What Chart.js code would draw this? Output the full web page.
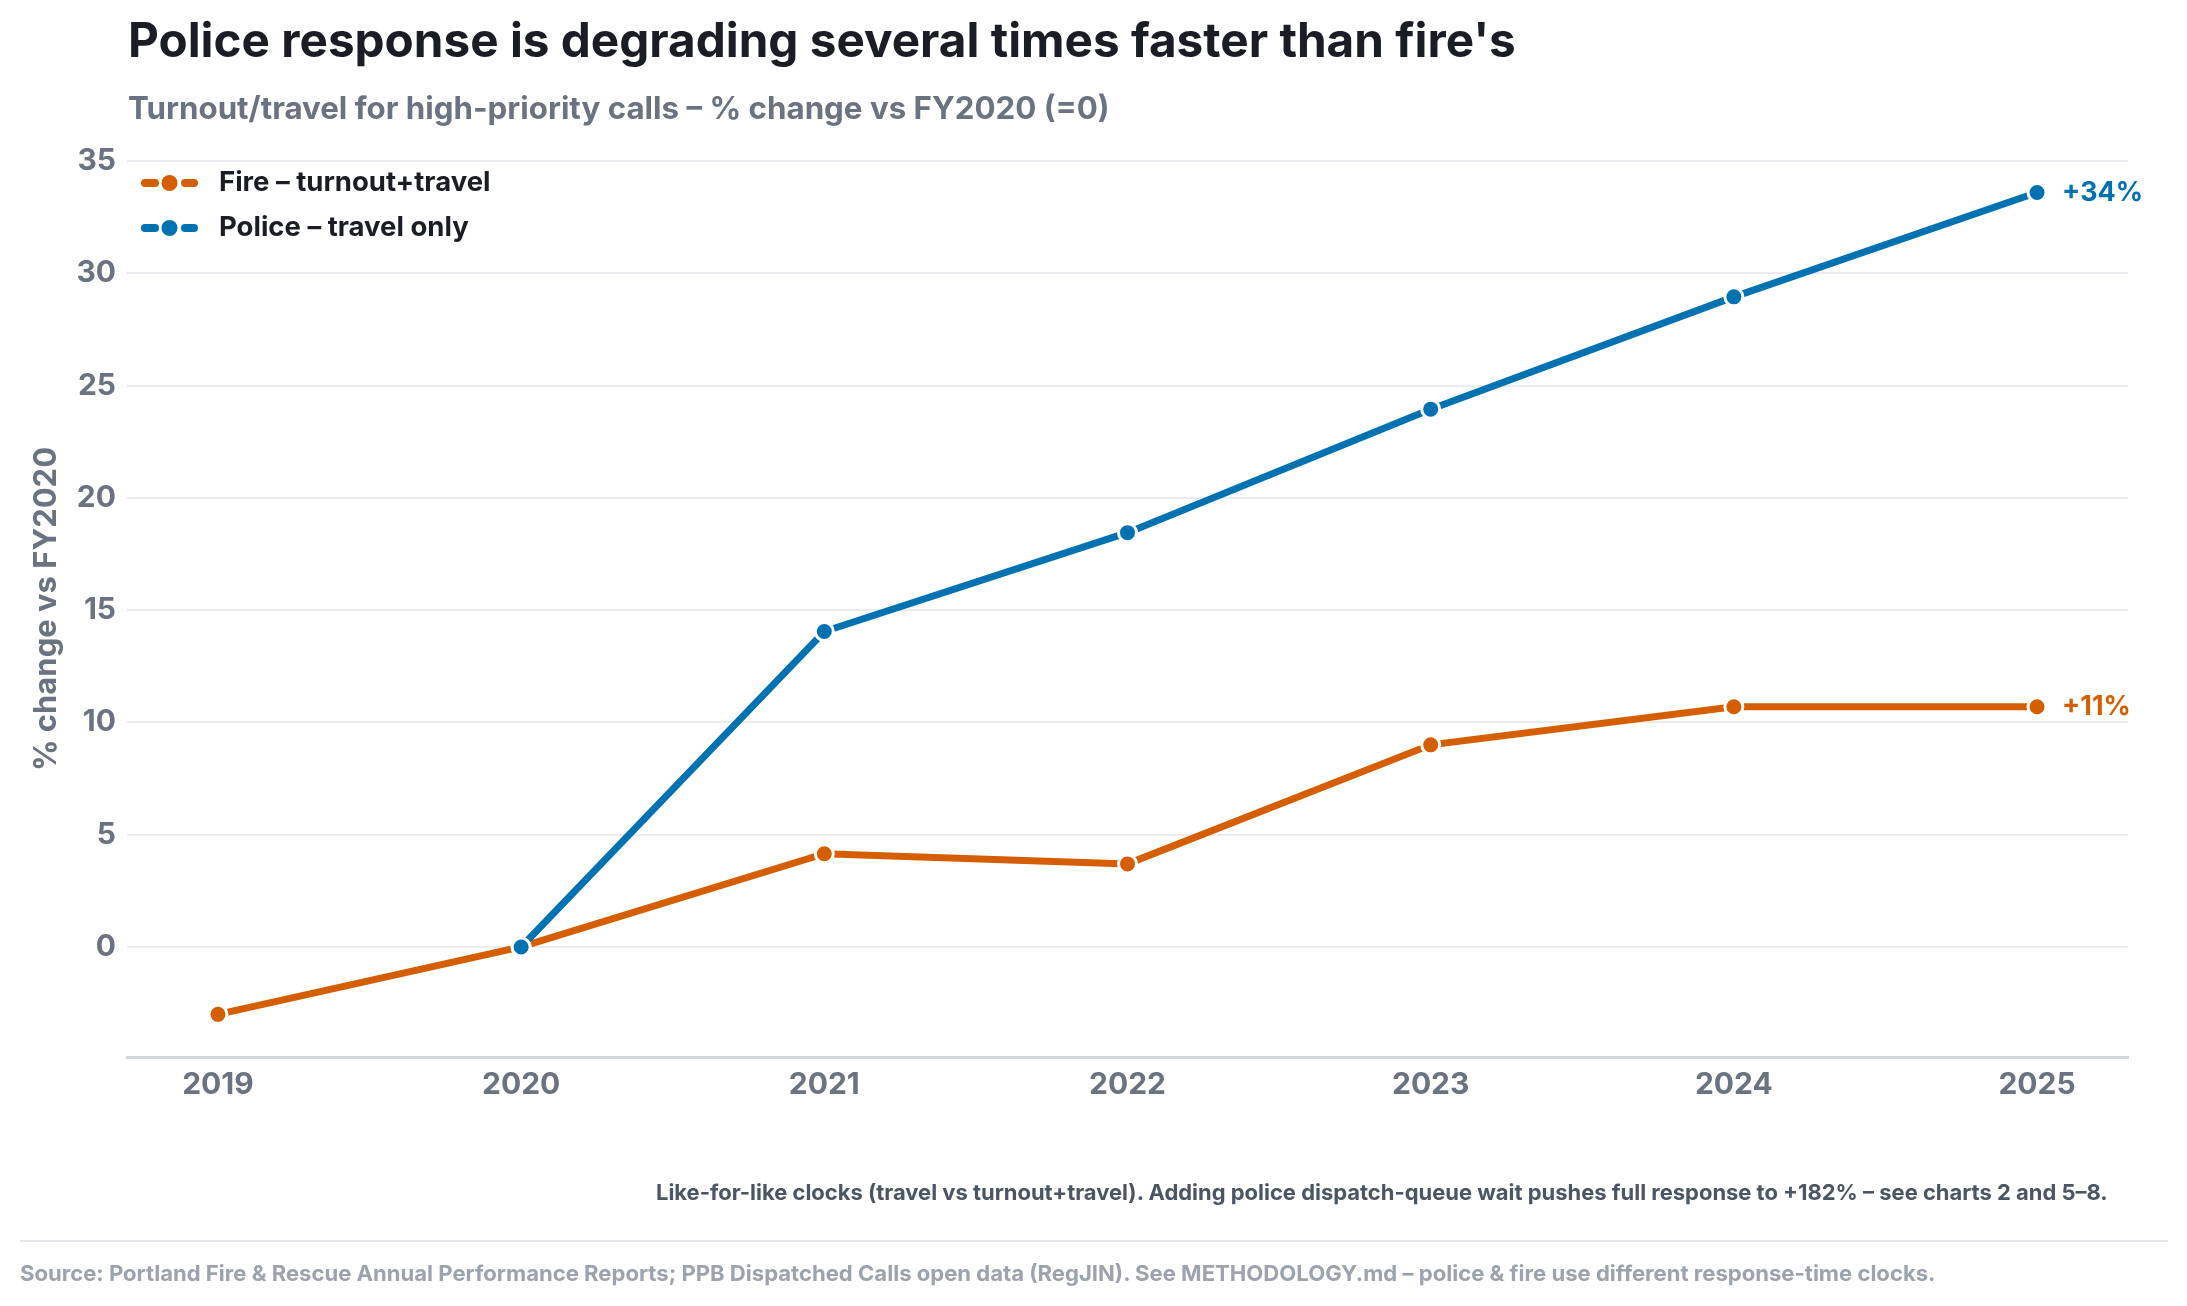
<!DOCTYPE html>
<html lang="en">
<head>
<meta charset="utf-8">
<title>Police vs fire response times</title>
<script src="https://cdn.jsdelivr.net/npm/chart.js@4.4.1/dist/chart.umd.min.js"></script>
<style>
  html, body { margin: 0; padding: 0; background: #fff; }
  body { width: 2187px; height: 1306px; position: relative; overflow: hidden;
         font-family: Inter, "Noto Sans", sans-serif; font-weight: 700; }
  #wrap { position: absolute; left: 0; top: 0; width: 2187px; height: 1306px; }
  .t { position: absolute; white-space: nowrap; line-height: 1; }
  #title { left: 128px; font-size: 48px; color: #1a1d23; }
  #subtitle { left: 128px; font-size: 30px; color: #6b7280; }
  #note { font-size: 21px; color: #4b5563; }
  #rule { position: absolute; left: 20px; width: 2148px; top: 1240px; height: 2px; background: #e5e7eb; }
  #source { left: 20px; font-size: 21px; color: #9ca3af; }
</style>
</head>
<body>
<div id="wrap"><canvas id="chart"></canvas></div>
<div class="t" id="title">Police response is degrading several times faster than fire's</div>
<div class="t" id="subtitle">Turnout/travel for high-priority calls – % change vs FY2020 (=0)</div>
<div class="t" id="note">Like-for-like clocks (travel vs turnout+travel). Adding police dispatch-queue wait pushes full response to +182% – see charts 2 and 5–8.</div>
<div id="rule"></div>
<div class="t" id="source">Source: Portland Fire &amp; Rescue Annual Performance Reports; PPB Dispatched Calls open data (RegJIN). See METHODOLOGY.md – police &amp; fire use different response-time clocks.</div>
<script>
// values, % change vs FY2020
const years = [2019, 2020, 2021, 2022, 2023, 2024, 2025];
const fireChange = [-3.0, 0, 4.15, 3.7, 9.0, 10.7, 10.7];
const policeYears = [2020, 2021, 2022, 2023, 2024, 2025];
const policeChange = [0, 14.05, 18.45, 23.95, 28.95, 33.6];
const yTicks = [0, 5, 10, 15, 20, 25, 30, 35];

const FIRE = '#d55e00';
const POLICE = '#0072b2';
const FONT = 'Inter, "Noto Sans", sans-serif';

function pairs(xs, ys) {
    return xs.map((x, i) => ({ x: x, y: ys[i] }));
}

// size a text block to the width it has in the reference, keep its baseline
function fitText(id, width, baseline, right) {
    const el = document.getElementById(id);
    const size = parseFloat(getComputedStyle(el).fontSize);
    const w = el.getBoundingClientRect().width;
    const s = size * width / w;
    el.style.fontSize = s.toFixed(2) + 'px';
    el.style.top = (baseline - 0.864 * s).toFixed(1) + 'px';
    if (right !== undefined) el.style.left = (right - width) + 'px';
}

function fitFont(ctx, text, width) {
    ctx.font = 'bold 100px ' + FONT;
    return 100 * width / ctx.measureText(text).width;
}

function drawMarker(ctx, x0, y, color) {
    ctx.strokeStyle = color;
    ctx.lineWidth = 8;
    ctx.lineCap = 'round';
    ctx.beginPath();
    ctx.moveTo(x0 + 4, y); ctx.lineTo(x0 + 14, y);
    ctx.moveTo(x0 + 44, y); ctx.lineTo(x0 + 53, y);
    ctx.stroke();
    ctx.beginPath();
    ctx.arc(x0 + 28.5, y, 8, 0, Math.PI * 2);
    ctx.fillStyle = color;
    ctx.fill();
}

// legend in the top-left of the plot + end-of-line labels
const decorations = {
    id: 'decorations',
    afterDatasetsDraw(chart) {
        const ctx = chart.ctx;
        const area = chart.chartArea;
        ctx.save();
        const endSize = fitFont(ctx, '+34%', 81);
        chart.data.datasets.forEach((ds, i) => {
            const meta = chart.getDatasetMeta(i);
            const pt = meta.data[meta.data.length - 1];
            const v = ds.data[ds.data.length - 1].y;
            ctx.font = 'bold ' + endSize.toFixed(1) + 'px ' + FONT;
            ctx.fillStyle = ds.borderColor;
            ctx.textAlign = 'left';
            ctx.textBaseline = 'middle';
            ctx.fillText('+' + Math.round(v) + '%', pt.x + 25, pt.y);

            const ly = area.top + 22 + i * 45;
            drawMarker(ctx, area.left + 14, ly, ds.borderColor);
            ctx.font = 'bold 27.5px ' + FONT;
            ctx.fillStyle = '#1a1d23';
            ctx.fillText(ds.label, area.left + 92, ly);
        });
        ctx.restore();
    }
};

function makeChart() {
    const ctx = document.getElementById('chart');
    new Chart(ctx, {
        type: 'line',
        data: {
            datasets: [
                {
                    label: 'Fire – turnout+travel',
                    data: pairs(years, fireChange),
                    borderColor: FIRE,
                    backgroundColor: FIRE,
                    borderWidth: 7,
                    pointRadius: 9,
                    pointBorderWidth: 3,
                    pointBorderColor: '#fff',
                    pointBackgroundColor: FIRE,
                    order: 1
                },
                {
                    label: 'Police – travel only',
                    data: pairs(policeYears, policeChange),
                    borderColor: POLICE,
                    backgroundColor: POLICE,
                    borderWidth: 7,
                    pointRadius: 9,
                    pointBorderWidth: 3,
                    pointBorderColor: '#fff',
                    pointBackgroundColor: POLICE,
                    order: 0
                }
            ]
        },
        options: {
            responsive: true,
            maintainAspectRatio: false,
            animation: false,
            layout: { padding: { left: 0, top: 161, right: 59, bottom: 189 } },
            plugins: {
                legend: { display: false },
                tooltip: { enabled: false }
            },
            scales: {
                x: {
                    type: 'linear',
                    min: 2018.7,
                    max: 2025.3,
                    afterBuildTicks: s => { s.ticks = years.map(v => ({ value: v })); },
                    afterFit: s => { s.height = 60; },
                    grid: { display: false },
                    border: { display: true, color: '#d1d5db', width: 3 },
                    ticks: {
                        callback: v => String(v),
                        color: '#6b7280',
                        font: { family: FONT, size: 30, weight: 'bold' },
                        padding: 2,
                        maxRotation: 0
                    }
                },
                y: {
                    min: -4.9,
                    max: 35,
                    afterBuildTicks: s => { s.ticks = yTicks.map(v => ({ value: v })); },
                    afterFit: s => { s.width = 127; },
                    grid: { color: '#ebebf0', lineWidth: 2, drawTicks: false },
                    border: { display: false },
                    ticks: {
                        color: '#6b7280',
                        font: { family: FONT, size: 30, weight: 'bold' },
                        padding: 11
                    },
                    title: {
                        display: true,
                        text: '% change vs FY2020',
                        color: '#6b7280',
                        font: { family: FONT, size: 31, weight: 'bold' },
                        padding: { top: 28, bottom: 0 }
                    }
                }
            }
        },
        plugins: [decorations]
    });
}

fitText('title', 1388, 57.5);
fitText('subtitle', 982, 119.5);
fitText('note', 1452, 1201, 2108);
fitText('source', 1916, 1281);
makeChart();
</script>
</body>
</html>
